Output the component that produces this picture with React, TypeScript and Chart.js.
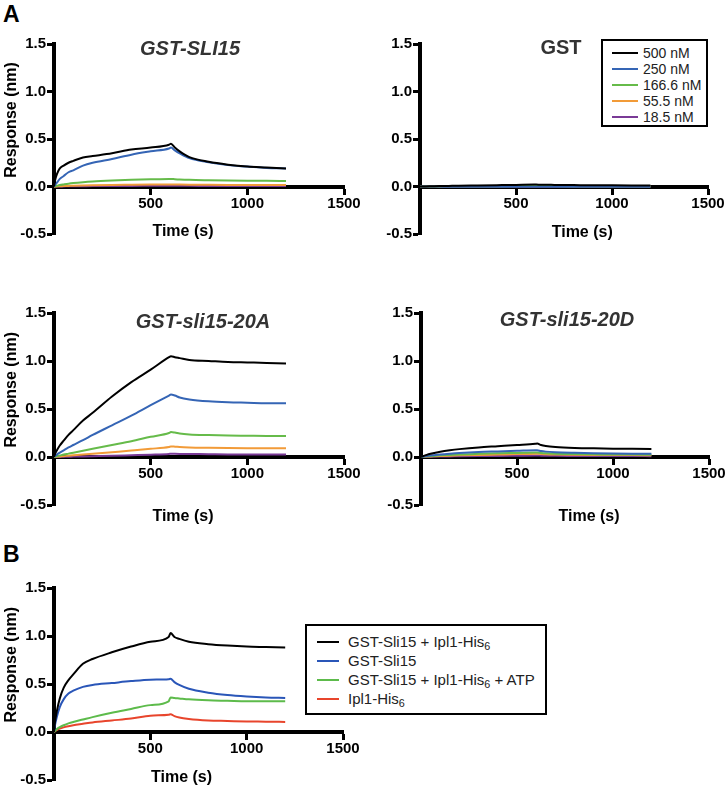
import React, { useEffect, useRef } from 'react';
import { Chart, registerables } from 'chart.js';

Chart.register(...registerables);

// ---------- data ----------
const TIME = [0, 5, 15, 30, 50, 75, 100, 150, 200, 300, 400, 500, 595, 605, 625, 650, 700, 800, 900, 1000, 1100, 1200];

const X_TITLE = 'Time (s)';
const Y_TITLE = 'Response (nm)';
const PANEL_TITLES = ['GST-SLI15', 'GST', 'GST-sli15-20A', 'GST-sli15-20D', ''];

const CONC_LABELS = ['500 nM', '250 nM', '166.6 nM', '55.5 nM', '18.5 nM'];
const CONC_COLORS = ['#000000', '#3565b5', '#66bb4a', '#f29b38', '#7a3a96'];

const SLI15_500 = [0, 0.06, 0.13, 0.19, 0.22, 0.25, 0.27, 0.305, 0.32, 0.35, 0.39, 0.41, 0.44, 0.45, 0.41, 0.37, 0.31, 0.26, 0.23, 0.21, 0.2, 0.19];
const SLI15_250 = [0, 0.015, 0.04, 0.08, 0.11, 0.15, 0.17, 0.22, 0.25, 0.29, 0.335, 0.37, 0.4, 0.41, 0.38, 0.35, 0.3, 0.255, 0.225, 0.21, 0.195, 0.19];
const SLI15_166 = [0, 0.003, 0.008, 0.015, 0.022, 0.03, 0.036, 0.045, 0.052, 0.062, 0.07, 0.076, 0.08, 0.08, 0.077, 0.074, 0.07, 0.066, 0.063, 0.061, 0.06, 0.058];
const SLI15_55 = [0, 0, 0.001, 0.002, 0.004, 0.006, 0.008, 0.011, 0.013, 0.016, 0.018, 0.02, 0.022, 0.022, 0.021, 0.02, 0.019, 0.018, 0.017, 0.016, 0.015, 0.015];
const SLI15_18 = [0, 0, 0, 0.001, 0.001, 0.002, 0.002, 0.003, 0.004, 0.005, 0.006, 0.007, 0.008, 0.008, 0.008, 0.007, 0.007, 0.006, 0.006, 0.006, 0.005, 0.005];

const GST_500 = [0, 0, 0, 0.001, 0.002, 0.003, 0.004, 0.006, 0.008, 0.011, 0.014, 0.017, 0.02, 0.02, 0.019, 0.018, 0.017, 0.015, 0.013, 0.012, 0.011, 0.01];
const GST_250 = [0, 0, 0, 0, 0, -0.001, -0.001, -0.002, -0.002, -0.002, -0.003, -0.003, -0.003, -0.003, -0.003, -0.003, -0.003, -0.003, -0.003, -0.003, -0.003, -0.003];
const GST_166 = [0, 0, 0, 0, 0.001, 0.001, 0.001, 0.002, 0.002, 0.003, 0.003, 0.004, 0.004, 0.004, 0.004, 0.004, 0.004, 0.003, 0.003, 0.003, 0.003, 0.003];
const GST_55 = [0, 0, 0, 0, 0, 0, 0, 0.001, 0.001, 0.001, 0.001, 0.002, 0.002, 0.002, 0.002, 0.002, 0.002, 0.001, 0.001, 0.001, 0.001, 0.001];
const GST_18 = [0, 0, 0, 0, 0, 0, 0, 0, 0, 0, 0.001, 0.001, 0.001, 0.001, 0.001, 0.001, 0.001, 0.001, 0.001, 0.001, 0.001, 0.001];

const A20_500 = [0, 0.03, 0.07, 0.12, 0.17, 0.23, 0.28, 0.38, 0.46, 0.63, 0.78, 0.91, 1.04, 1.05, 1.04, 1.03, 1.01, 1.0, 0.99, 0.985, 0.98, 0.975];
const A20_250 = [0, 0.01, 0.025, 0.045, 0.07, 0.1, 0.125, 0.175, 0.23, 0.33, 0.43, 0.54, 0.64, 0.65, 0.64, 0.62, 0.6, 0.58, 0.57, 0.565, 0.56, 0.56];
const A20_166 = [0, 0.003, 0.008, 0.015, 0.025, 0.035, 0.045, 0.065, 0.085, 0.125, 0.165, 0.21, 0.25, 0.26, 0.255, 0.245, 0.235, 0.228, 0.224, 0.222, 0.22, 0.22];
const A20_55 = [0, 0.001, 0.003, 0.005, 0.009, 0.013, 0.017, 0.025, 0.033, 0.05, 0.067, 0.085, 0.105, 0.11, 0.108, 0.104, 0.1, 0.096, 0.093, 0.091, 0.09, 0.09];
const A20_18 = [0, 0, 0.001, 0.001, 0.002, 0.003, 0.004, 0.006, 0.008, 0.012, 0.018, 0.024, 0.032, 0.034, 0.033, 0.032, 0.031, 0.029, 0.027, 0.026, 0.025, 0.025];

const D20_500 = [0, 0.005, 0.012, 0.022, 0.033, 0.045, 0.055, 0.07, 0.082, 0.1, 0.112, 0.124, 0.137, 0.14, 0.125, 0.115, 0.105, 0.095, 0.09, 0.087, 0.085, 0.083];
const D20_250 = [0, 0.002, 0.006, 0.011, 0.016, 0.022, 0.027, 0.035, 0.042, 0.052, 0.058, 0.064, 0.07, 0.07, 0.062, 0.056, 0.05, 0.044, 0.04, 0.037, 0.035, 0.034];
const D20_166 = [0, 0.001, 0.004, 0.007, 0.01, 0.014, 0.017, 0.022, 0.027, 0.033, 0.038, 0.042, 0.046, 0.046, 0.042, 0.038, 0.034, 0.03, 0.028, 0.026, 0.025, 0.024];
const D20_55 = [0, 0.001, 0.002, 0.004, 0.006, 0.008, 0.01, 0.014, 0.017, 0.022, 0.026, 0.03, 0.034, 0.035, 0.032, 0.029, 0.026, 0.023, 0.021, 0.02, 0.02, 0.019];
const D20_18 = [0, 0, 0.001, 0.002, 0.003, 0.004, 0.005, 0.006, 0.008, 0.01, 0.011, 0.013, 0.015, 0.015, 0.014, 0.013, 0.012, 0.011, 0.01, 0.01, 0.01, 0.009];

const B_LABELS = ['GST-Sli15 + Ipl1-His\u2086', 'GST-Sli15', 'GST-Sli15 + Ipl1-His\u2086 + ATP', 'Ipl1-His\u2086'];
const B_COLORS = ['#000000', '#2a56b8', '#5dbb4b', '#e8452c'];
const B_SLI15_IPL1 = [0, 0.1, 0.22, 0.35, 0.46, 0.54, 0.6, 0.71, 0.76, 0.83, 0.89, 0.94, 0.99, 1.03, 0.99, 0.97, 0.94, 0.915, 0.9, 0.89, 0.885, 0.88];
const B_SLI15 = [0, 0.07, 0.16, 0.26, 0.34, 0.4, 0.43, 0.47, 0.49, 0.51, 0.53, 0.545, 0.55, 0.555, 0.52, 0.49, 0.45, 0.41, 0.385, 0.37, 0.36, 0.355];
const B_SLI15_IPL1_ATP = [0, 0.01, 0.03, 0.05, 0.07, 0.09, 0.105, 0.13, 0.155, 0.2, 0.24, 0.28, 0.32, 0.36, 0.355, 0.35, 0.34, 0.33, 0.325, 0.32, 0.32, 0.32];
const B_IPL1 = [0, 0.008, 0.02, 0.035, 0.048, 0.06, 0.07, 0.085, 0.1, 0.12, 0.14, 0.17, 0.18, 0.185, 0.165, 0.15, 0.135, 0.12, 0.115, 0.11, 0.108, 0.105];

// ---------- styling ----------
const FONT = '"Liberation Sans", Arial, Helvetica, sans-serif';

const panelTextPlugin = {
  id: 'panelText',
  afterDraw(chart: any, _args: any, opts: any) {
    const { ctx, chartArea, scales } = chart;
    ctx.save();
    ctx.textAlign = 'center';
    ctx.textBaseline = 'middle';
    if (opts.title) {
      ctx.fillStyle = '#333333';
      ctx.font = `${opts.titleItalic ? 'italic ' : ''}bold 20px ${FONT}`;
      ctx.fillText(opts.title, (chartArea.left + chartArea.right) / 2 + opts.titleDx, chartArea.top + opts.titleDy);
    }
    ctx.fillStyle = '#000000';
    ctx.font = `bold 16px ${FONT}`;
    ctx.fillText(X_TITLE, scales.x.getPixelForValue(opts.xTitleValue), scales.y.getPixelForValue(-0.5) + opts.xTitleDy);
    if (opts.showYTitle) {
      ctx.translate(12, scales.y.getPixelForValue(0.7));
      ctx.rotate(-Math.PI / 2);
      ctx.fillText(Y_TITLE, 0, 0);
    }
    ctx.restore();
  },
};

type PanelProps = {
  left: number; top: number; width: number; height: number;
  padTop: number; padBottom: number; padRight: number; yAxisWidth: number;
  series: number[][]; labels: string[]; colors: string[];
  title: string; titleItalic: boolean; titleDx: number; titleDy: number;
  showYTitle: boolean; xTitleValue: number; xTitleDy: number;
};

function Panel(p: PanelProps) {
  const ref = useRef<HTMLCanvasElement>(null);
  useEffect(() => {
    const tickFont = { family: FONT, size: 15, weight: 'bold' as const };
    const chart = new Chart(ref.current as HTMLCanvasElement, {
      type: 'line',
      data: {
        datasets: p.series.map((vals, i) => ({
          label: p.labels[i],
          data: TIME.map((t, j) => ({ x: t, y: vals[j] })),
          borderColor: p.colors[i],
          backgroundColor: p.colors[i],
          borderWidth: 2,
          pointRadius: 0,
          cubicInterpolationMode: 'monotone' as const,
          fill: false,
        })),
      },
      options: {
        animation: false,
        responsive: false,
        events: [],
        layout: { padding: { top: p.padTop, bottom: p.padBottom, right: p.padRight, left: 0 } },
        plugins: {
          legend: { display: false },
          tooltip: { enabled: false },
          // @ts-ignore
          panelText: {
            title: p.title, titleItalic: p.titleItalic, titleDx: p.titleDx, titleDy: p.titleDy,
            showYTitle: p.showYTitle, xTitleValue: p.xTitleValue, xTitleDy: p.xTitleDy,
          },
        },
        scales: {
          x: {
            type: 'linear',
            min: 0,
            max: 1500,
            position: { y: 0 } as any,
            ticks: {
              stepSize: 500,
              autoSkip: false,
              maxRotation: 0,
              padding: 2,
              color: '#000000',
              font: tickFont,
              callback: (v: any) => (Number(v) === 0 ? '' : String(v)),
            },
            grid: { drawOnChartArea: false, drawTicks: true, tickLength: 6, tickWidth: 3, tickColor: '#000000', color: '#000000' },
            border: { display: true, width: 4, color: '#000000' },
          },
          y: {
            type: 'linear',
            min: -0.5,
            max: 1.5,
            ticks: {
              stepSize: 0.5,
              padding: 1,
              color: '#000000',
              font: tickFont,
              callback: (v: any) => Number(v).toFixed(1),
            },
            grid: { drawOnChartArea: false, drawTicks: true, tickLength: 7, tickWidth: 3, tickColor: '#000000', color: '#000000' },
            border: { display: true, width: 4, color: '#000000' },
            afterFit: (s: any) => { s.width = p.yAxisWidth; },
          },
        },
      },
      plugins: [panelTextPlugin as any],
    });
    return () => chart.destroy();
  }, []);
  return (
    <canvas
      ref={ref}
      width={p.width}
      height={p.height}
      style={{ position: 'absolute', left: p.left, top: p.top, width: p.width, height: p.height }}
    />
  );
}

function renderLabel(s: string) {
  const parts = s.split('\u2086');
  const out: any[] = [];
  parts.forEach((part, i) => {
    out.push(<span key={'t' + i}>{part}</span>);
    if (i < parts.length - 1) out.push(<sub key={'s' + i} style={{ fontSize: '0.72em', verticalAlign: '-0.3em', lineHeight: 0 }}>6</sub>);
  });
  return out;
}

type LegendProps = {
  left: number; top: number; width: number; height: number;
  labels: string[]; colors: string[]; rowH: number; padTop: number;
  lineLeft: number; lineW: number; lineH: number; textLeft: number; fontSize: number;
};

function HtmlLegend(l: LegendProps) {
  return (
    <div style={{
      position: 'absolute', left: l.left, top: l.top, width: l.width, height: l.height,
      border: '2px solid #000', boxSizing: 'border-box', background: '#fff',
      fontFamily: FONT, fontSize: l.fontSize, color: '#222',
    }}>
      {l.labels.map((lab, i) => (
        <div key={i} style={{ position: 'absolute', left: 0, top: l.padTop + i * l.rowH, height: l.rowH, width: '100%' }}>
          <div style={{ position: 'absolute', left: l.lineLeft, top: (l.rowH - l.lineH) / 2, width: l.lineW, height: l.lineH, background: l.colors[i] }} />
          <div style={{ position: 'absolute', left: l.textLeft, top: 0, lineHeight: l.rowH + 'px', whiteSpace: 'nowrap' }}>{renderLabel(lab)}</div>
        </div>
      ))}
    </div>
  );
}

export default function App() {
  const letter = (t: string, top: number) => (
    <div style={{ position: 'absolute', left: 3, top, fontFamily: FONT, fontWeight: 'bold', fontSize: 23, lineHeight: '23px', color: '#000' }}>{t}</div>
  );
  return (
    <div style={{ position: 'absolute', left: 0, top: 0, width: 728, height: 790, background: '#ffffff', overflow: 'hidden' }}>
      {letter('A', 3)}
      {letter('B', 543)}
      <Panel left={0} top={20} width={364} height={240} padTop={24} padBottom={26} padRight={20} yAxisWidth={54}
        series={[SLI15_500, SLI15_250, SLI15_166, SLI15_55, SLI15_18]} labels={CONC_LABELS} colors={CONC_COLORS}
        title={PANEL_TITLES[0]} titleItalic={true} titleDx={-9} titleDy={5}
        showYTitle={true} xTitleValue={667} xTitleDy={-2} />
      <Panel left={364} top={20} width={364} height={240} padTop={24} padBottom={26} padRight={20} yAxisWidth={56}
        series={[GST_500, GST_250, GST_166, GST_55, GST_18]} labels={CONC_LABELS} colors={CONC_COLORS}
        title={PANEL_TITLES[1]} titleItalic={false} titleDx={-3} titleDy={4}
        showYTitle={false} xTitleValue={845} xTitleDy={-1} />
      <Panel left={0} top={290} width={364} height={240} padTop={23} padBottom={25} padRight={20} yAxisWidth={54}
        series={[A20_500, A20_250, A20_166, A20_55, A20_18]} labels={CONC_LABELS} colors={CONC_COLORS}
        title={PANEL_TITLES[2]} titleItalic={true} titleDx={4} titleDy={9}
        showYTitle={true} xTitleValue={667} xTitleDy={12} />
      <Panel left={364} top={290} width={364} height={240} padTop={23} padBottom={25} padRight={19} yAxisWidth={57}
        series={[D20_500, D20_250, D20_166, D20_55, D20_18]} labels={CONC_LABELS} colors={CONC_COLORS}
        title={PANEL_TITLES[3]} titleItalic={true} titleDx={2} titleDy={7}
        showYTitle={false} xTitleValue={875} xTitleDy={12} />
      <Panel left={0} top={565} width={364} height={225} padTop={23} padBottom={10} padRight={21} yAxisWidth={54}
        series={[B_SLI15_IPL1, B_SLI15, B_SLI15_IPL1_ATP, B_IPL1]} labels={B_LABELS} colors={B_COLORS}
        title={PANEL_TITLES[4]} titleItalic={false} titleDx={0} titleDy={0}
        showYTitle={true} xTitleValue={662} xTitleDy={-2} />
      <HtmlLegend left={601} top={39} width={107} height={88} labels={CONC_LABELS} colors={CONC_COLORS}
        rowH={16} padTop={4} lineLeft={9} lineW={26} lineH={1.5} textLeft={40} fontSize={14} />
      <HtmlLegend left={305} top={624} width={242} height={91} labels={B_LABELS} colors={B_COLORS}
        rowH={19} padTop={6} lineLeft={10} lineW={22} lineH={2} textLeft={41} fontSize={15} />
    </div>
  );
}
